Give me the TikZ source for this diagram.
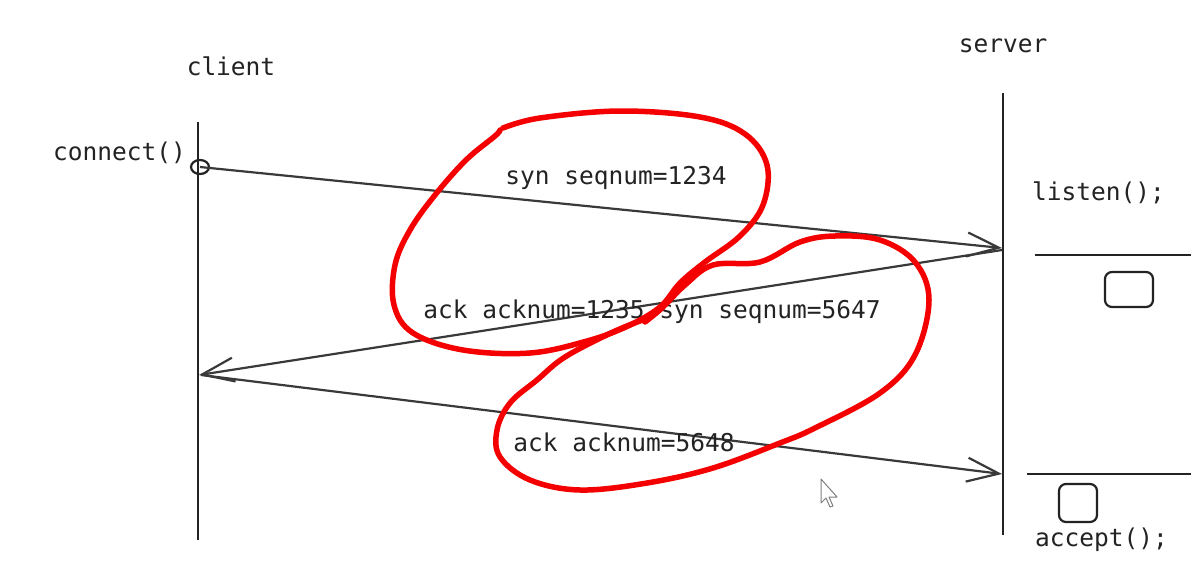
\documentclass[tikz,border=0pt]{standalone}
\usepackage{fontspec}
\setmonofont{DejaVu Sans Mono}
\usetikzlibrary{arrows.meta}
\definecolor{ink}{RGB}{35,35,35}
\definecolor{pen}{RGB}{245,0,0}
\tikzset{
  lbl/.style={font=\ttfamily\fontsize{24.5}{29}\selectfont, text=ink, inner sep=0pt},
  life/.style={draw=ink, line width=2.8pt},
  msg/.style={draw=ink!90, line width=2.2pt, -{Straight Barb[length=32pt,width=24pt,line width=2.2pt]}},
  sep/.style={draw=ink, line width=2.2pt},
  slot/.style={draw=ink, line width=2.2pt, rounded corners=7pt},
  redpen/.style={draw=pen, line width=5.5pt, line cap=round, line join=round}
}
\begin{document}
\begin{tikzpicture}[x=1pt,y=-1pt]
\useasboundingbox[fill=white] (0,0) rectangle (1191,573);
% titles
\node[lbl] (client) at (231,66) {client};
\node[lbl] (server) at (1003,46) {server};
\node[lbl, anchor=east] (connect) at (186,153) {connect()};
\node[lbl, anchor=west] (listen) at (1032,193) {listen();};
\node[lbl, anchor=west] (accept) at (1035,540) {accept();};
% lifelines
\coordinate (ctop) at (198,122); \coordinate (cbot) at (198,540);
\coordinate (stop) at (1003,93); \coordinate (sbot) at (1003,535);
\draw[life] (ctop) -- (cbot);
\draw[life] (stop) -- (sbot);
% message points
\coordinate (c1) at (200,167);
\coordinate (s1) at (1002,248);
\coordinate (s2) at (1002,250);
\coordinate (c2) at (199,375);
\coordinate (c3) at (201,375);
\coordinate (s3) at (1002,474);
\draw[ink, line width=2.2pt] (c1) ellipse [x radius=9, y radius=7];
\draw[msg] (c1) -- (s1);
\draw[msg] (s2) -- (c2);
\draw[msg] (c3) -- (s3);
% message labels
\node[lbl] (m1) at (616,178) {syn seqnum=1234};
\node[lbl] (m2) at (652,312) {ack acknum=1235 syn seqnum=5647};
\node[lbl] (m3) at (624,442) {ack acknum=5648};
% server side separators and slots
\coordinate (h1a) at (1035,255); \coordinate (h1b) at (1191,255);
\coordinate (h2a) at (1027,474); \coordinate (h2b) at (1191,474);
\draw[sep] (h1a) -- (h1b);
\draw[sep] (h2a) -- (h2b);
\draw[slot] (1105,272) rectangle (1153,307);
\draw[slot] (1059,484) rectangle (1097,522);
% red annotations
\draw[redpen] plot[smooth, tension=0.6] coordinates {
 (503,128) (540,118) (620,111) (700,117) (745,134) (767,165) (763,205)
 (740,236) (705,262) (680,283) (660,307) (628,326) (587,341) (530,353)
 (463,350) (413,333) (394,305) (395,265) (410,230) (435,195) (466,160) (495,136) (500,130)};
\draw[redpen] plot[smooth, tension=0.6] coordinates {
 (648,318) (613,332) (565,357) (537,380) (510,403) (497,430) (500,457)
 (530,480) (580,490) (647,483) (713,468) (780,443) (815,428) (880,393)
 (915,355) (929,300) (915,262) (880,240) (835,236) (800,242) (760,262)
 (713,265) (685,285) (662,308) (645,322)};
% cursor
\draw[gray, line width=1pt, line join=round, fill=white]
 (821,479) -- (821,503) -- (826,498) -- (830,507) -- (833,506) -- (829,497) -- (837,497) -- cycle;
\end{tikzpicture}
\end{document}
